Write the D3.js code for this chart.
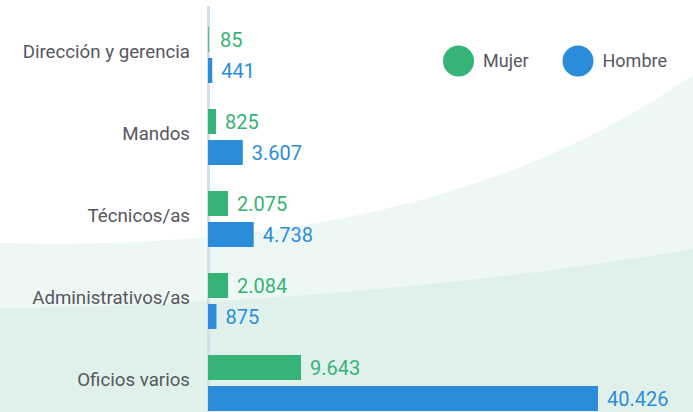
<!DOCTYPE html>
<html lang="es">
    <head>
        <meta charset="utf-8">
        <title>Mujer / Hombre por categoría</title>
        <script src="https://d3js.org/d3.v7.min.js"></script>
        <style type="text/css">
          body { margin: 0; }
          svg { width: 693px; height: 412px; display: block; }
          .cat { font-size: 18.7px; font-family: Roboto, "Noto Sans", sans-serif; fill: #575760; }
          .val { font-size: 20px; font-family: Roboto, "Noto Sans", sans-serif; }
          .leg { font-size: 18px; font-family: Roboto, "Noto Sans", sans-serif; fill: #575760; }
        </style>
    </head>
    <body>
        <svg></svg>

        <script type="text/javascript">

        // data
        const categories = ["Dirección y gerencia", "Mandos", "Técnicos/as", "Administrativos/as", "Oficios varios"];
        const series = ["Mujer", "Hombre"];
        const mujer = [85, 825, 2075, 2084, 9643];
        const hombre = [441, 3607, 4738, 875, 40426];

        const colors = {Mujer: "#36b376", Hombre: "#2b8dd9"};

        // spanish number format -> 40.426
        const es = d3.formatLocale({decimal: ",", thousands: ".", grouping: [3], currency: ["", " €"]});
        const fmt = es.format(",d");

        const rows = categories.map((c, i) => ({cat: c, Mujer: mujer[i], Hombre: hombre[i]}));

        const W = 693, H = 412;
        const svg = d3.select("svg");

        // background curves
        svg.append("rect").attr("width", W).attr("height", H).attr("fill", "#ffffff");
        svg.append("path")
            .attr("d", "M0,243 C300,251 520,195 693,75 L693,412 L0,412 Z")
            .attr("fill", "#edf7f4");
        svg.append("path")
            .attr("d", "M0,308 C200,306 450,290 693,249 L693,412 L0,412 Z")
            .attr("fill", "#dff1ea");

        // scales
        const x = d3.scaleLinear()
                    .domain([0, d3.max(hombre)])
                    .range([208, 598]);

        const y = d3.scaleBand()
                    .domain(categories)
                    .range([14, 424])
                    .paddingInner(26/82)
                    .paddingOuter(13/82);

        const ySub = d3.scaleBand()
                    .domain(series)
                    .range([0, y.bandwidth()])
                    .paddingInner(6/31);

        // axis line
        svg.append("line")
            .attr("x1", 208.5).attr("x2", 208.5)
            .attr("y1", 6).attr("y2", H)
            .attr("stroke", "#cfe0ec")
            .attr("stroke-width", 3);

        const g = svg.selectAll("g.row")
                    .data(rows)
                    .enter()
                    .append("g")
                    .attr("class", "row")
                    .attr("transform", d => "translate(0," + y(d.cat) + ")");

        // category labels
        g.append("text")
            .attr("class", "cat")
            .attr("x", 190)
            .attr("y", ySub.bandwidth() - 0.5)
            .attr("dy", "0.35em")
            .attr("text-anchor", "end")
            .text(d => d.cat);

        series.forEach(s => {
            g.append("rect")
                .attr("x", x(0))
                .attr("y", ySub(s))
                .attr("width", d => x(d[s]) - x(0))
                .attr("height", ySub.bandwidth())
                .attr("fill", colors[s]);

            g.append("text")
                .attr("class", "val")
                .attr("x", d => Math.max(x(d[s]), 211) + 9)
                .attr("y", ySub(s) + ySub.bandwidth() / 2)
                .attr("dy", "0.35em")
                .attr("fill", colors[s])
                .text(d => fmt(d[s]));
        });

        // legend
        const legX = [458.5, 578];
        const leg = svg.selectAll("g.leg")
                    .data(series)
                    .enter()
                    .append("g")
                    .attr("class", "legend")
                    .attr("transform", (d, i) => "translate(" + legX[i] + ",61)");

        leg.append("circle")
            .attr("r", 15.5)
            .attr("fill", d => colors[d]);

        leg.append("text")
            .attr("class", "leg")
            .attr("x", 24.5)
            .attr("dy", "0.35em")
            .text(d => d);

        </script>
    </body>
</html>
